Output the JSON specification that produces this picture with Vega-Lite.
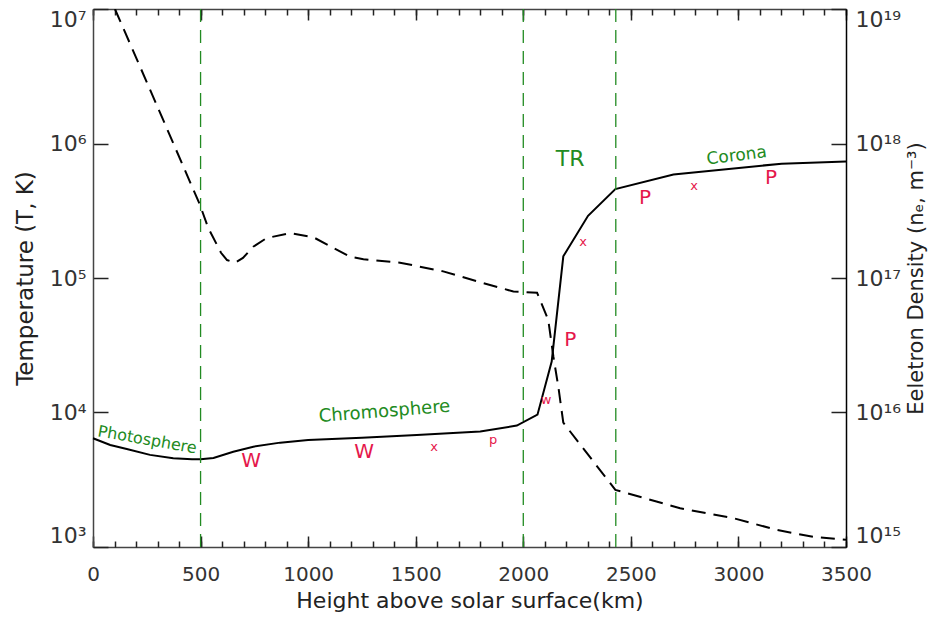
{
  "$schema": "https://vega.github.io/schema/vega-lite/v6.json",
  "width": 753,
  "height": 538,
  "autosize": {"type": "none"},
  "padding": {"left": 93, "top": 9, "right": 85, "bottom": 72},
  "config": {
    "view": {"stroke": null},
    "font": "DejaVu Sans",
    "axis": {
      "grid": false,
      "labelFont": "DejaVu Sans",
      "titleFont": "DejaVu Sans",
      "labelColor": "#333",
      "titleColor": "#222",
      "titleFontWeight": "normal",
      "domainColor": "#444",
      "tickColor": "#222",
      "domainWidth": 1.5,
      "tickWidth": 1.5
    }
  },
  "datasets": {
    "temperature": [
      {"h": 0, "T": 6440}, {"h": 80, "T": 5740}, {"h": 157, "T": 5360}, {"h": 265, "T": 4840},
      {"h": 373, "T": 4570}, {"h": 460, "T": 4490}, {"h": 500, "T": 4490}, {"h": 560, "T": 4590},
      {"h": 652, "T": 5110}, {"h": 745, "T": 5570}, {"h": 870, "T": 5970}, {"h": 1000, "T": 6250},
      {"h": 1250, "T": 6500}, {"h": 1505, "T": 6810}, {"h": 1800, "T": 7210}, {"h": 1970, "T": 7990},
      {"h": 2066, "T": 9640}, {"h": 2132, "T": 23900}, {"h": 2186, "T": 145000}, {"h": 2301, "T": 290000},
      {"h": 2428, "T": 458000}, {"h": 2698, "T": 589000}, {"h": 3201, "T": 708000}, {"h": 3500, "T": 736000}
    ],
    "density": [
      {"h": 102, "n": 1.0e19}, {"h": 300, "n": 1.87e18}, {"h": 497, "n": 3.5e17}, {"h": 535, "n": 2.37e17},
      {"h": 595, "n": 1.54e17}, {"h": 623, "n": 1.36e17}, {"h": 660, "n": 1.30e17}, {"h": 697, "n": 1.41e17},
      {"h": 745, "n": 1.71e17}, {"h": 807, "n": 1.98e17}, {"h": 916, "n": 2.16e17}, {"h": 1024, "n": 2.01e17},
      {"h": 1195, "n": 1.44e17}, {"h": 1257, "n": 1.38e17}, {"h": 1427, "n": 1.30e17}, {"h": 1628, "n": 1.12e17},
      {"h": 1815, "n": 9.16e16}, {"h": 1954, "n": 7.93e16}, {"h": 2064, "n": 7.77e16}, {"h": 2116, "n": 4.89e16},
      {"h": 2140, "n": 2.6e16}, {"h": 2163, "n": 1.55e16}, {"h": 2186, "n": 8.4e15}, {"h": 2428, "n": 2.66e15},
      {"h": 2729, "n": 1.94e15}, {"h": 2976, "n": 1.64e15}, {"h": 3178, "n": 1.34e15}, {"h": 3348, "n": 1.19e15},
      {"h": 3500, "n": 1.13e15}
    ],
    "boundaries": [{"h": 500}, {"h": 2000}, {"h": 2430}],
    "markers": [
      {"h": 735, "T": 4370, "s": "W", "kind": "big"},
      {"h": 1260, "T": 5090, "s": "W", "kind": "big"},
      {"h": 2218, "T": 34700, "s": "P", "kind": "big"},
      {"h": 2566, "T": 395000, "s": "P", "kind": "big"},
      {"h": 3152, "T": 557000, "s": "P", "kind": "big"},
      {"h": 1585, "T": 5550, "s": "x", "kind": "small"},
      {"h": 1860, "T": 6250, "s": "p", "kind": "small"},
      {"h": 2106, "T": 12400, "s": "w", "kind": "small"},
      {"h": 2278, "T": 186000, "s": "x", "kind": "small"},
      {"h": 2794, "T": 486000, "s": "x", "kind": "small"}
    ],
    "regions": [
      {"h": 252, "T": 6250, "name": "Photosphere"},
      {"h": 1355, "T": 10100, "name": "Chromosphere"},
      {"h": 2218, "T": 767000, "name": "TR"},
      {"h": 2992, "T": 810000, "name": "Corona"}
    ]
  },
  "layer": [
    {
      "data": {"name": "temperature"},
      "mark": {"type": "line", "color": "black", "strokeWidth": 2},
      "encoding": {
        "x": {
          "field": "h", "type": "quantitative",
          "scale": {"domain": [0, 3500], "nice": false, "zero": false},
          "axis": {
            "orient": "bottom", "values": [0, 500, 1000, 1500, 2000, 2500, 3000, 3500], "format": "d",
            "tickSize": -11, "labelPadding": 28, "labelFontSize": 20, "labelFlush": false,
            "title": "Height above solar surface(km)", "titleFontSize": 22, "titlePadding": 6
          }
        },
        "y": {
          "field": "T", "type": "quantitative",
          "scale": {"type": "log", "domain": [1000, 10000000], "nice": false},
          "axis": {
            "orient": "left", "values": [1000, 10000, 100000, 1000000, 10000000],
            "tickSize": -15, "labelPadding": 22, "labelFontSize": 22, "labelFlush": true,
            "labelExpr": "datum.value < 5000 ? '10³' : datum.value < 50000 ? '10⁴' : datum.value < 500000 ? '10⁵' : datum.value < 5000000 ? '10⁶' : '10⁷'",
            "title": "Temperature (T, K)", "titleFontSize": 23, "titlePadding": 12
          }
        }
      }
    },
    {
      "data": {"name": "density"},
      "mark": {"type": "line", "color": "black", "strokeWidth": 2, "strokeDash": [14, 8], "clip": true},
      "encoding": {
        "x": {
          "field": "h", "type": "quantitative",
          "axis": {
            "orient": "top", "values": [0, 500, 1000, 1500, 2000, 2500, 3000, 3500],
            "tickSize": -11, "labels": false, "title": null
          }
        },
        "y": {
          "field": "n", "type": "quantitative",
          "scale": {"type": "log", "domain": [1e15, 1e19], "nice": false},
          "axis": {
            "orient": "right", "values": [1e15, 1e16, 1e17, 1e18, 1e19],
            "tickSize": -15, "labelPadding": 24, "labelFontSize": 22, "labelFlush": true, "domainColor": "#000",
            "labelExpr": "datum.value < 5000000000000000 ? '10¹⁵' : datum.value < 50000000000000000 ? '10¹⁶' : datum.value < 500000000000000000 ? '10¹⁷' : datum.value < 5000000000000000000 ? '10¹⁸' : '10¹⁹'",
            "title": "Eeletron Density (nₑ, m⁻³)", "titleFontSize": 21, "titleAngle": 270, "titleBaseline": "top", "titlePadding": 5
          }
        }
      }
    },
    {
      "data": {"name": "boundaries"},
      "mark": {"type": "rule", "color": "#228b22", "strokeWidth": 1.3, "strokeDash": [13, 8]},
      "encoding": {
        "x": {
          "field": "h", "type": "quantitative",
          "axis": {
            "orient": "bottom",
            "values": [0, 100, 200, 300, 400, 500, 600, 700, 800, 900, 1000, 1100, 1200, 1300, 1400, 1500, 1600, 1700, 1800, 1900, 2000, 2100, 2200, 2300, 2400, 2500, 2600, 2700, 2800, 2900, 3000, 3100, 3200, 3300, 3400, 3500],
            "tickSize": -6, "labels": false, "domain": false, "title": null
          }
        }
      }
    },
    {
      "data": {"name": "markers"},
      "transform": [{"filter": "datum.kind == 'big'"}],
      "mark": {"type": "text", "color": "#e5174b", "fontSize": 20, "font": "DejaVu Sans", "align": "center", "baseline": "middle"},
      "encoding": {
        "x": {
          "field": "h", "type": "quantitative",
          "axis": {
            "orient": "top",
            "values": [0, 100, 200, 300, 400, 500, 600, 700, 800, 900, 1000, 1100, 1200, 1300, 1400, 1500, 1600, 1700, 1800, 1900, 2000, 2100, 2200, 2300, 2400, 2500, 2600, 2700, 2800, 2900, 3000, 3100, 3200, 3300, 3400, 3500],
            "tickSize": -6, "labels": false, "domain": false, "title": null
          }
        },
        "y": {"field": "T", "type": "quantitative", "scale": {"type": "log", "domain": [1000, 10000000], "nice": false}, "axis": null},
        "text": {"field": "s"}
      }
    },
    {
      "data": {"name": "markers"},
      "transform": [{"filter": "datum.kind == 'small'"}],
      "mark": {"type": "text", "color": "#e5174b", "fontSize": 13, "font": "DejaVu Sans", "align": "center", "baseline": "middle"},
      "encoding": {
        "x": {"field": "h", "type": "quantitative", "axis": null},
        "y": {"field": "T", "type": "quantitative", "scale": {"type": "log", "domain": [1000, 10000000], "nice": false}, "axis": null},
        "text": {"field": "s"}
      }
    },
    {
      "data": {"name": "regions"},
      "transform": [{"filter": "datum.name == 'Photosphere'"}],
      "mark": {"type": "text", "color": "#228b22", "fontSize": 16, "angle": 10, "align": "center", "baseline": "middle"},
      "encoding": {
        "x": {"field": "h", "type": "quantitative", "axis": null},
        "y": {"field": "T", "type": "quantitative", "scale": {"type": "log", "domain": [1000, 10000000], "nice": false}, "axis": null},
        "text": {"field": "name"}
      }
    },
    {
      "data": {"name": "regions"},
      "transform": [{"filter": "datum.name == 'Chromosphere'"}],
      "mark": {"type": "text", "color": "#228b22", "fontSize": 18, "angle": -4.5, "align": "center", "baseline": "middle"},
      "encoding": {
        "x": {"field": "h", "type": "quantitative", "axis": null},
        "y": {"field": "T", "type": "quantitative", "scale": {"type": "log", "domain": [1000, 10000000], "nice": false}, "axis": null},
        "text": {"field": "name"}
      }
    },
    {
      "data": {"name": "regions"},
      "transform": [{"filter": "datum.name == 'TR'"}],
      "mark": {"type": "text", "color": "#228b22", "fontSize": 22, "align": "center", "baseline": "middle"},
      "encoding": {
        "x": {"field": "h", "type": "quantitative", "axis": null},
        "y": {"field": "T", "type": "quantitative", "scale": {"type": "log", "domain": [1000, 10000000], "nice": false}, "axis": null},
        "text": {"field": "name"}
      }
    },
    {
      "data": {"name": "regions"},
      "transform": [{"filter": "datum.name == 'Corona'"}],
      "mark": {"type": "text", "color": "#228b22", "fontSize": 17, "angle": -7, "align": "center", "baseline": "middle"},
      "encoding": {
        "x": {"field": "h", "type": "quantitative", "axis": null},
        "y": {"field": "T", "type": "quantitative", "scale": {"type": "log", "domain": [1000, 10000000], "nice": false}, "axis": null},
        "text": {"field": "name"}
      }
    }
  ],
  "resolve": {"scale": {"y": "independent"}, "axis": {"x": "independent", "y": "independent"}}
}
